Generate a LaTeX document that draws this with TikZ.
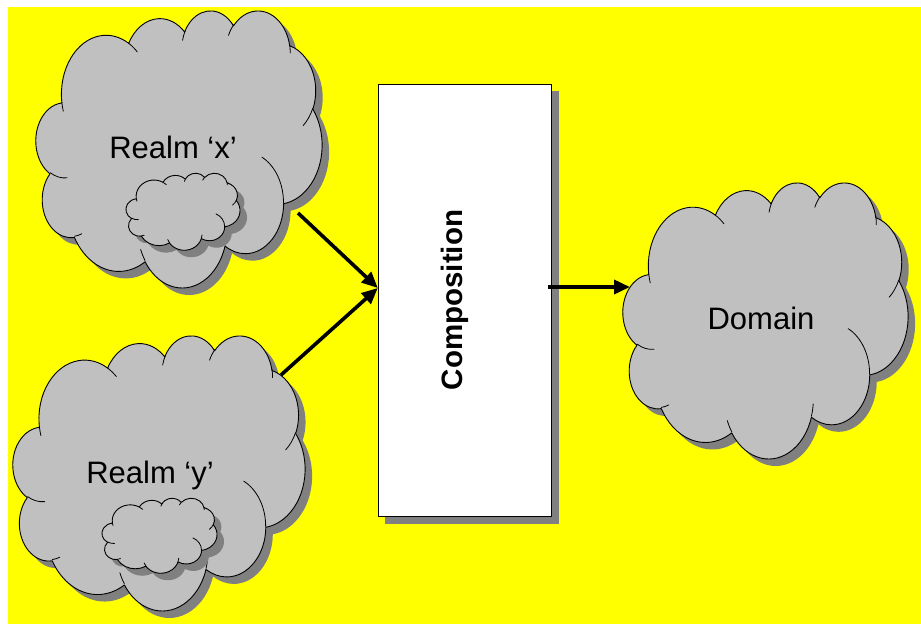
\documentclass[tikz,border=0pt]{standalone}
\usepackage{fontspec}
\setmainfont{Liberation Sans}
\usetikzlibrary{arrows.meta,shadows}

\definecolor{bgyellow}{RGB}{255,255,0}
\definecolor{cloudgray}{RGB}{192,192,192}
\definecolor{shadowgray}{RGB}{128,128,128}

\tikzset{
  cloudbody/.style={fill=cloudgray, draw=black, line width=0.9pt, line join=round},
  cloudshade/.style={fill=shadowgray},
  crease/.style={draw=black, line width=0.8pt, line cap=round},
  cloudlabel/.style={font=\fontsize{31}{36}\selectfont, inner sep=0pt, anchor=base},
  flow/.style={line width=3.6pt, -{Triangle[length=16pt,width=14pt]}},
  compbox/.style={draw=black, fill=white, line width=0.9pt, inner sep=0pt,
    drop shadow={shadow xshift=7pt, shadow yshift=-7pt, fill=shadowgray, opacity=1}},
}

% Outline of a cloud on a 432 x 432 frame (y pointing down);
% each puff is an elliptic arc given by radii and visual start/sweep angles.
\newcommand\cloudoutline{%
  (39.00,143.70)
  \foreach \cwr/\chr/\cst/\csw in {%
      67.53/91.90/-190.487/123.781, 53.33/72.67/-144.102/89.945,
      43.65/59.45/-145.808/99.723,  48.57/65.95/-130.986/117.242,
      53.33/72.73/-78.709/109.027,  67.75/92.20/-46.267/130.269,
      57.85/78.67/0.625/114.033,    67.52/92.15/22.452/115.173,
      77.20/105.43/66.243/75.711,   43.60/59.18/-274.942/146.736,
      43.45/59.45/-246.829/152.519}
  { arc[x radius=\cwr, y radius=\chr,
        start angle={atan2(\cwr*sin(\cst),\chr*cos(\cst))},
        delta angle={Mod(atan2(\cwr*sin(\cst+\csw),\chr*cos(\cst+\csw))-atan2(\cwr*sin(\cst),\chr*cos(\cst)),360)}] }
  -- cycle}

% \drawcloud{left}{top}{width}{height}
\newcommand\drawcloud[4]{%
  \pgfmathsetmacro\cloudsx{#3/432}%
  \pgfmathsetmacro\cloudsy{#4/432}%
  \begin{scope}[shift={(#1,#2)}, x=\cloudsx pt, y=-\cloudsy pt]
    \fill[cloudshade, xshift=7pt, yshift=-7pt] \cloudoutline;
    \filldraw[cloudbody] \cloudoutline;
    % inner creases of the puffs
    \foreach \px/\py/\cwr/\chr/\cst/\csw in {%
        46.93/261.77/43.45/59.45/86.742/26.430,
        69.28/348.99/43.60/59.18/73.610/11.447,
        164.78/390.90/67.52/92.15/137.624/14.081,
        288.27/347.51/67.52/92.15/6.453/15.998,
        341.29/229.54/57.85/78.67/-70.292/70.917,
        417.98/153.54/53.33/72.73/30.318/27.752,
        383.24/54.26/48.57/65.95/-13.744/14.859,
        290.78/39.52/48.57/65.95/-149.181/18.195,
        221.41/47.20/43.65/59.45/-163.494/19.010,
        140.00/51.92/67.53/91.90/-66.707/12.319,
        41.27/157.89/67.53/91.90/157.654/11.862}
      \draw[crease] (\px,\py) arc[x radius=\cwr, y radius=\chr,
        start angle={atan2(\cwr*sin(\cst),\chr*cos(\cst))},
        delta angle={Mod(atan2(\cwr*sin(\cst+\csw),\chr*cos(\cst+\csw))-atan2(\cwr*sin(\cst),\chr*cos(\cst)),360)}];
  \end{scope}}

\begin{document}
\begin{tikzpicture}[x=1pt, y=-1pt]
  \useasboundingbox (0,0) rectangle (921,624);
  \fill[bgyellow] (8,7) rectangle (921,624);

  % realm x with its inner cloud
  \drawcloud{36}{10}{286}{277}
  \drawcloud{126}{173}{114}{77}
  \node[cloudlabel] (realmx) at (173,158) {Realm ‘x’};

  % realm y with its inner cloud
  \drawcloud{13}{335}{292}{275}
  \drawcloud{102}{498}{115}{75}
  \node[cloudlabel] (realmy) at (150,483) {Realm ‘y’};

  % domain
  \drawcloud{623}{182}{285}{276}
  \node[cloudlabel] (domain) at (761,329) {Domain};

  % composition box
  \node[compbox, minimum width=173.5pt, minimum height=432.4pt] (comp) at (465,300.5) {};
  \node[rotate=90, inner sep=0pt, font=\bfseries\fontsize{29.5}{34}\selectfont] (complabel) at (455,300) {Composition};

  % connector end points on the cloud outlines
  \coordinate (xout) at (298,213);
  \coordinate (yout) at (281,375);
  \coordinate (domin) at (630,287);

  \draw[flow] (xout) -- ([yshift=12.5pt]comp.west);
  \draw[flow] (yout) -- ([yshift=12.5pt]comp.west);
  \draw[flow] ([xshift=-4pt,yshift=13.5pt]comp.east) -- (domin);
\end{tikzpicture}
\end{document}
